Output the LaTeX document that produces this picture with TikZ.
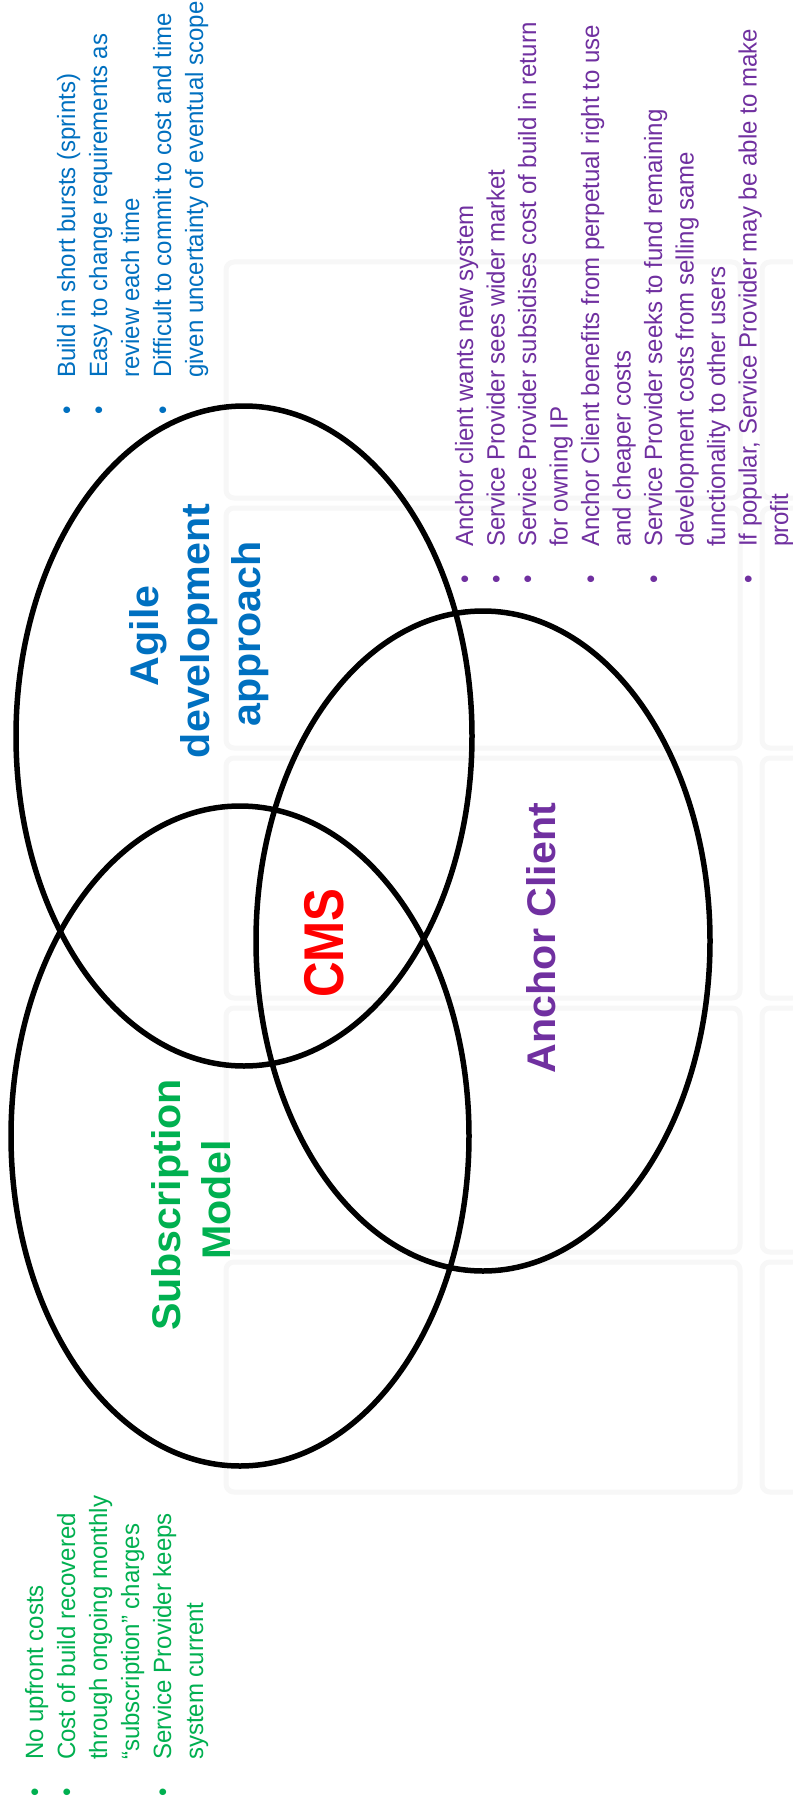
\documentclass[tikz,border=0pt]{standalone}
\usepackage{fontspec}
\setmainfont{Liberation Sans}
\newfontfamily\bodyfont[FakeStretch=0.96]{Liberation Sans}
\newfontfamily\lblfont[FakeStretch=1.03]{Liberation Sans}
\newfontfamily\cmsfont[FakeStretch=0.88]{Liberation Sans}
\definecolor{agblue}{HTML}{0070C0}
\definecolor{subgreen}{HTML}{00B050}
\definecolor{ancpurple}{HTML}{7030A0}
\definecolor{cmsred}{HTML}{FF0000}
\newcommand{\bul}{\llap{•\hspace{28pt}}}
\begin{document}
\begin{tikzpicture}[x=1pt,y=-1pt,
  venn/.style={draw=black, line width=5.5pt},
  panel/.style={draw=black!3, line width=5pt, rounded corners=8pt},
  bt/.style={rotate=90, anchor=base west, inner sep=0pt, font=\bodyfont\fontsize{25}{30}\selectfont},
  lbl/.style={rotate=90, anchor=base, inner sep=0pt, font=\lblfont\bfseries\fontsize{40}{48}\selectfont}]
\useasboundingbox (0,0) rectangle (792,1803);
\fill[white] (0,0) rectangle (792,1803);
% faint background panels
\foreach \a/\b in {262/498, 508/748, 758/998, 1008/1252, 1262/1492}{
  \draw[panel] (226,\a) rectangle (740,\b);
  \draw[panel] (762,\a) rectangle (840,\b);
}
% Venn ellipses
\draw[venn] (244,736) ellipse [x radius=228pt, y radius=330pt];
\draw[venn] (240,1136) ellipse [x radius=229pt, y radius=330pt];
\draw[venn] (483,941) ellipse [x radius=227pt, y radius=330pt];
% labels
\node[lbl, text=agblue] (ag1) at (158,636) {Agile};
\node[lbl, text=agblue] (ag2) at (209,631) {development};
\node[lbl, text=agblue] (ag3) at (260,634) {approach};
\node[lbl, text=subgreen] (sm1) at (180,1205) {Subscription};
\node[lbl, text=subgreen] (sm2) at (230,1200) {Model};
\node[lbl, text=ancpurple] (ac) at (555,938) {Anchor Client};
\node[rotate=90, anchor=base, inner sep=0pt, text=cmsred, font=\cmsfont\bfseries\fontsize{56}{60}\selectfont] (cms) at (343,943) {CMS};
% blue bullets
\begin{scope}[every node/.style={bt, text=agblue}]
\node (bl1) at (75,378) {\bul Build in short bursts (sprints)};
\node (bl2) at (107,378) {\bul Easy to change requirements as};
\node (bl3) at (139,378) {review each time};
\node (bl4) at (171,378) {\bul Difficult to commit to cost and time};
\node (bl5) at (203,378) {given uncertainty of eventual scope};
\end{scope}
% purple bullets
\begin{scope}[every node/.style={bt, text=ancpurple}]
\node (pl1) at (473,547) {\bul Anchor client wants new system};
\node (pl2) at (504.5,547) {\bul Service Provider sees wider market};
\node (pl3) at (536,547) {\bul Service Provider subsidises cost of build in return};
\node (pl4) at (567.5,547) {for owning IP};
\node (pl5) at (599,547) {\bul Anchor Client benefits from perpetual right to use};
\node (pl6) at (630.5,547) {and cheaper costs};
\node (pl7) at (662,547) {\bul Service Provider seeks to fund remaining};
\node (pl8) at (693.5,547) {development costs from selling same};
\node (pl9) at (725,547) {functionality to other users};
\node (pl10) at (756.5,547) {\bul If popular, Service Provider may be able to make};
\node (pl11) at (788,547) {profit};
\end{scope}
% green bullets
\begin{scope}[every node/.style={bt, text=subgreen}]
\node (gl1) at (43,1760) {\bul No upfront costs};
\node (gl2) at (75,1760) {\bul Cost of build recovered};
\node (gl3) at (107,1760) {through ongoing monthly};
\node (gl4) at (139,1760) {“subscription” charges};
\node (gl5) at (171,1760) {\bul Service Provider keeps};
\node (gl6) at (203,1760) {system current};
\end{scope}
\end{tikzpicture}
\end{document}
